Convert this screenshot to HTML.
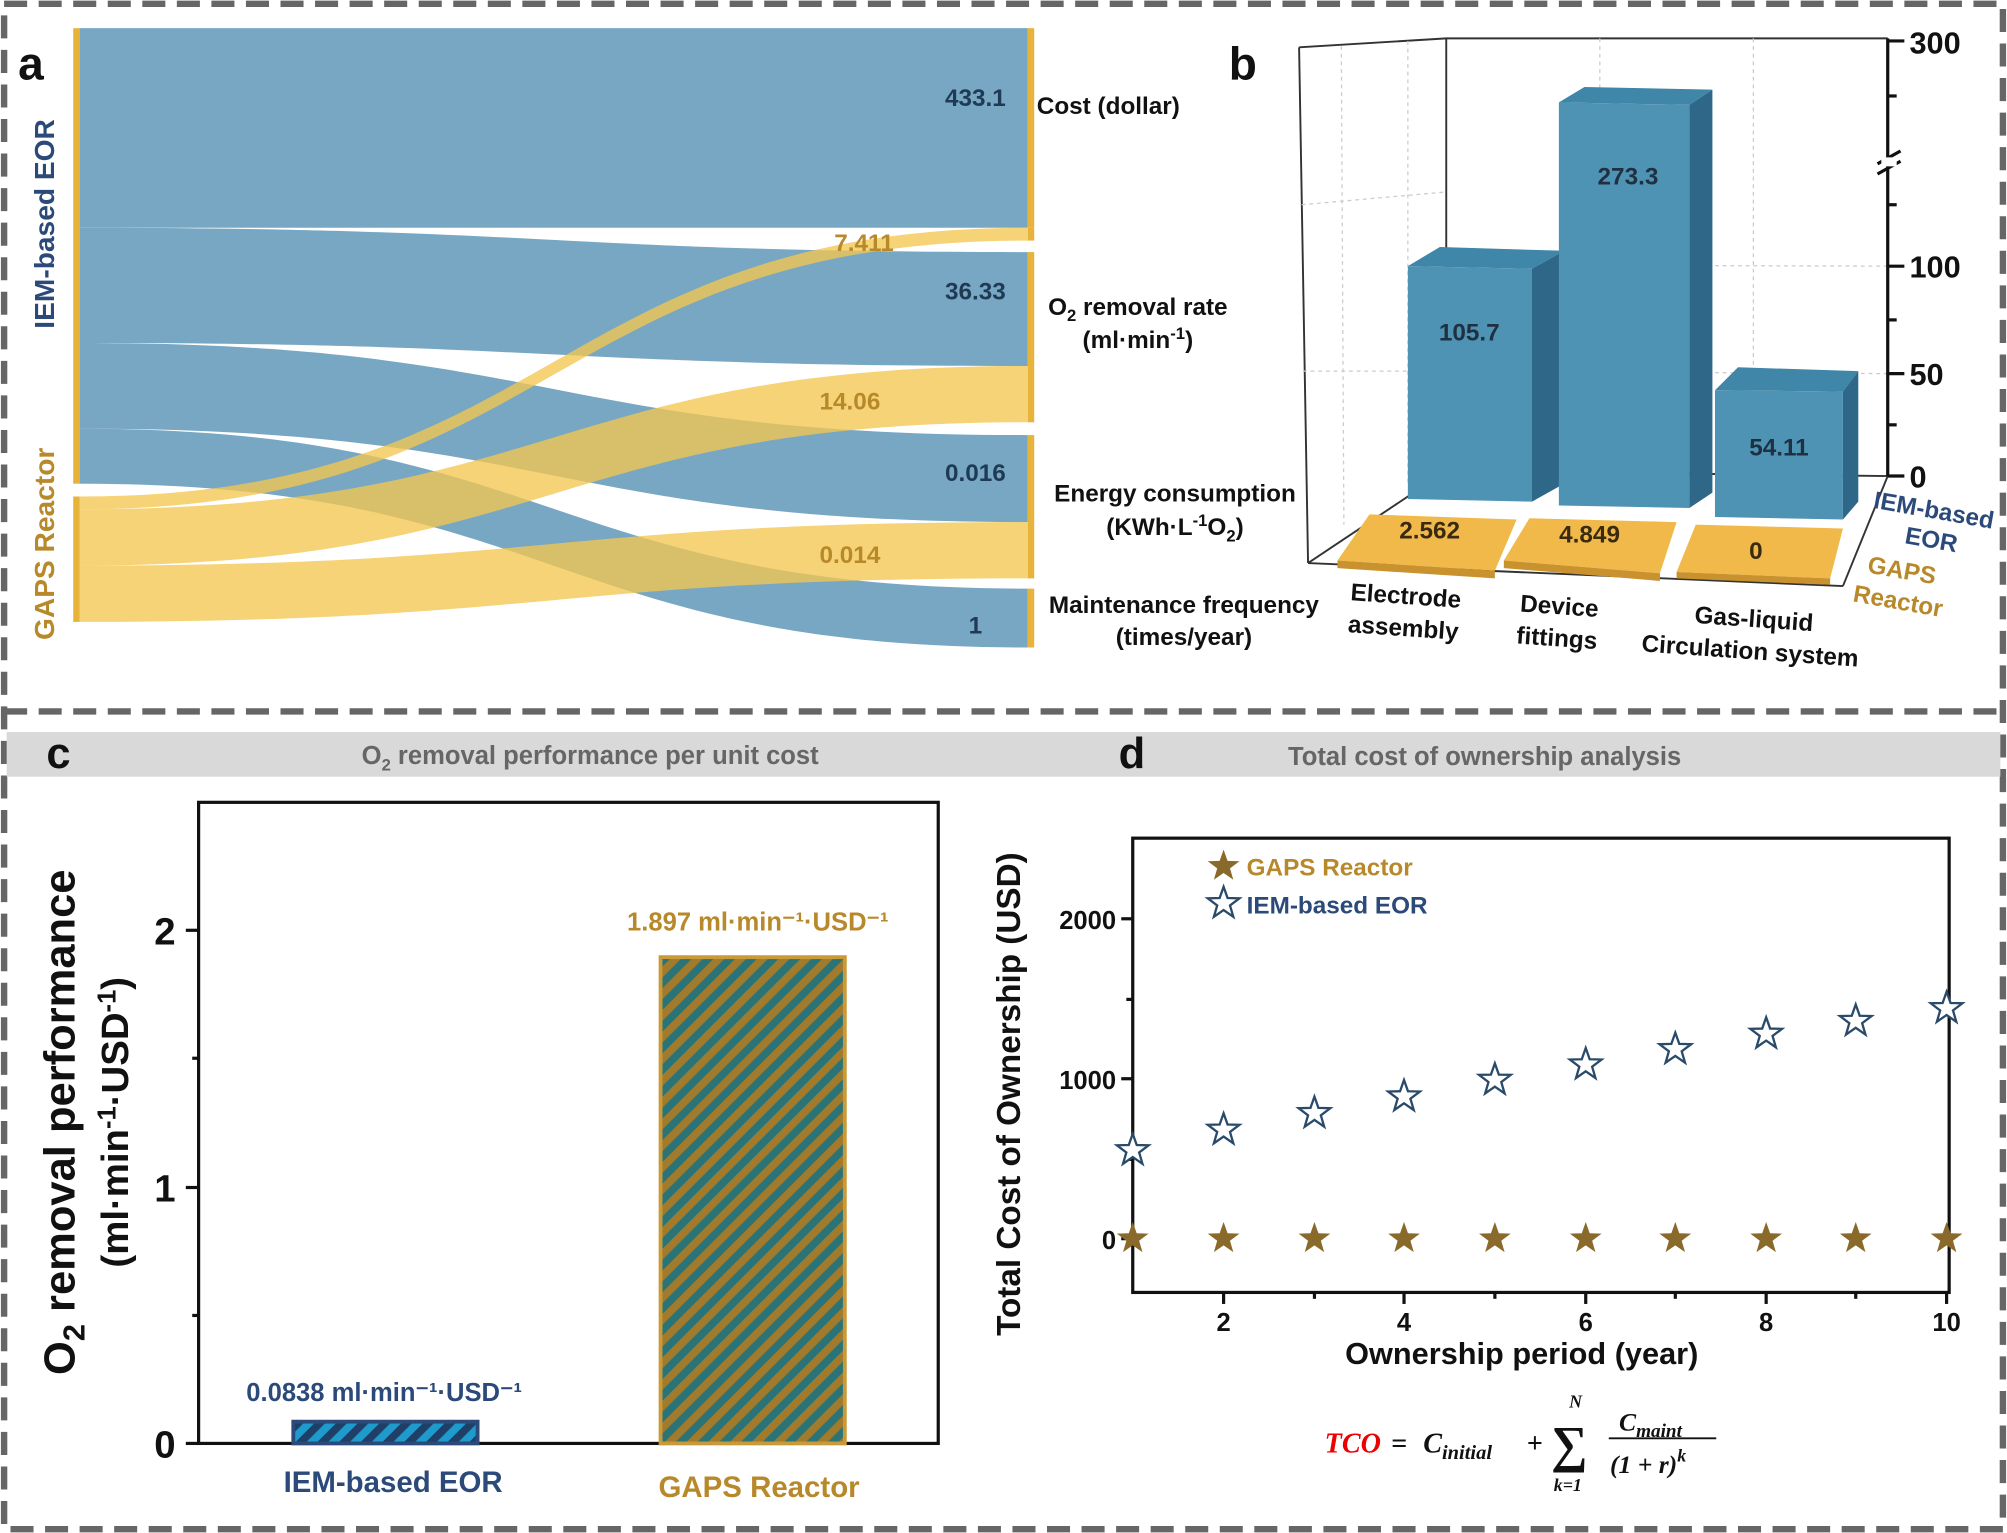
<!DOCTYPE html>
<html><head><meta charset="utf-8"><style>
html,body{margin:0;padding:0;background:#fff}
svg{display:block}
text{font-family:"Liberation Sans",Arial,sans-serif;font-weight:bold}
</style></head><body>
<svg width="2007" height="1533" viewBox="0 0 1568 1198" xmlns="http://www.w3.org/2000/svg">
<defs>
<pattern id="hb" width="12" height="12" patternUnits="userSpaceOnUse" patternTransform="rotate(45)">
<rect width="12" height="12" fill="#1e9bcc"/><rect width="6" height="12" fill="#1f3f66"/></pattern>
<pattern id="hg" width="12" height="12" patternUnits="userSpaceOnUse" patternTransform="rotate(45)">
<rect width="12" height="12" fill="#2a7478"/><rect width="6" height="12" fill="#a27a2c"/></pattern>
<polygon id="star" points="0,-13 3.1,-4.2 12.4,-4 5,1.6 7.6,10.5 0,5.2 -7.6,10.5 -5,1.6 -12.4,-4 -3.1,-4.2"/>
</defs>
<rect x="0" y="0" width="1568" height="1198" fill="#fff"/>
<rect x="3" y="3" width="1562" height="1192" fill="none" stroke="#666" stroke-width="5" stroke-dasharray="18,9"/>
<line x1="3" y1="556" x2="1565" y2="556" stroke="#666" stroke-width="5" stroke-dasharray="18,9"/>

<g fill="#78a7c3">
<path d="M62 22 C432 22,432 22,803 22 L803 178 C432 178,432 178,62 178Z"/>
<path d="M62 178 C432 178,432 197,803 197 L803 286 C432 286,432 268,62 268Z"/>
<path d="M62 268 C432 268,432 340,803 340 L803 408 C432 408,432 335,62 335Z"/>
<path d="M62 335 C432 335,432 460,803 460 L803 506 C432 506,432 378,62 378Z"/>
</g>
<g fill="#f2c750" fill-opacity="0.78">
<path d="M62 388 C432 388,432 178,803 178 L803 188 C432 188,432 398,62 398Z"/>
<path d="M62 398 C432 398,432 286,803 286 L803 330 C432 330,432 442,62 442Z"/>
<path d="M62 442 C432 442,432 408,803 408 L803 452 C432 452,432 486,62 486Z"/>
</g>
<rect x="57" y="22" width="5" height="356" fill="#e8b33a"/>
<rect x="57" y="388" width="5" height="98" fill="#e8b33a"/>
<g fill="#e8b33a"><rect x="803" y="22" width="5" height="156"/><rect x="803" y="197" width="5" height="89"/><rect x="803" y="340" width="5" height="68"/><rect x="803" y="460" width="5" height="46"/>
<rect x="803" y="178" width="5" height="10"/><rect x="803" y="286" width="5" height="44"/><rect x="803" y="408" width="5" height="44"/></g>
<text x="14" y="62" font-size="36" fill="#111">a</text>
<text transform="translate(42,175) rotate(-90)" text-anchor="middle" font-size="22" fill="#2b4a7a">IEM-based EOR</text>
<text transform="translate(42,425) rotate(-90)" text-anchor="middle" font-size="22" fill="#b8892a">GAPS Reactor</text>
<g font-size="19" text-anchor="middle">
<text x="762" y="83" fill="#1f3a55">433.1</text>
<text x="675" y="196" fill="#b8892a">7.411</text>
<text x="762" y="234" fill="#1f3a55">36.33</text>
<text x="664" y="320" fill="#b8892a">14.06</text>
<text x="762" y="376" fill="#1f3a55">0.016</text>
<text x="664" y="440" fill="#b8892a">0.014</text>
<text x="762" y="495" fill="#1f3a55">1</text>
</g>
<g font-size="19" fill="#111">
<text x="810" y="89">Cost (dollar)</text>
<text x="889" y="246" text-anchor="middle">O<tspan font-size="13" dy="5">2</tspan><tspan dy="-5"> removal rate</tspan></text>
<text x="889" y="272" text-anchor="middle">(ml·min<tspan font-size="13" dy="-7">-1</tspan><tspan dy="7">)</tspan></text>
<text x="918" y="392" text-anchor="middle">Energy consumption</text>
<text x="918" y="418" text-anchor="middle">(KWh·L<tspan font-size="13" dy="-7">-1</tspan><tspan dy="7">O</tspan><tspan font-size="13" dy="5">2</tspan><tspan dy="-5">)</tspan></text>
<text x="925" y="479" text-anchor="middle">Maintenance frequency</text>
<text x="925" y="504" text-anchor="middle">(times/year)</text>
</g>

<text x="960" y="62" font-size="36" fill="#111">b</text>
<g stroke="#333" stroke-width="1.5" fill="none">
<polyline points="1015,37 1130,30 1475,30"/>
<line x1="1015" y1="37" x2="1022" y2="440"/>
<line x1="1130" y1="30" x2="1130" y2="368"/>
<line x1="1022" y1="440" x2="1130" y2="368"/>
<line x1="1130" y1="368" x2="1475" y2="372"/>
<line x1="1022" y1="440" x2="1440" y2="458"/>
<line x1="1475" y1="372" x2="1440" y2="458"/>
</g>
<g stroke="#ccc" stroke-width="1" stroke-dasharray="3,3" fill="none">
<line x1="1130" y1="290" x2="1475" y2="292"/><line x1="1130" y1="207" x2="1475" y2="208"/>
<line x1="1017" y1="160" x2="1130" y2="150"/><line x1="1018" y1="290" x2="1130" y2="290"/>
<line x1="1048" y1="36" x2="1050" y2="410"/><line x1="1100" y1="32" x2="1100" y2="380"/>
<line x1="1250" y1="30" x2="1250" y2="370"/><line x1="1370" y1="30" x2="1370" y2="371"/>
</g>
<g stroke="#111" stroke-width="2.5">
<line x1="1475" y1="30" x2="1475" y2="372"/>
<line x1="1475" y1="32" x2="1488" y2="32"/><line x1="1475" y1="208" x2="1488" y2="208"/>
<line x1="1475" y1="292" x2="1488" y2="292"/><line x1="1475" y1="372" x2="1488" y2="372"/>
<line x1="1475" y1="75" x2="1482" y2="75"/><line x1="1475" y1="160" x2="1482" y2="160"/>
<line x1="1475" y1="250" x2="1482" y2="250"/><line x1="1475" y1="332" x2="1482" y2="332"/>
<line x1="1467" y1="128" x2="1485" y2="118"/><line x1="1467" y1="136" x2="1485" y2="126"/>
</g>
<rect x="1470" y="123" width="12" height="7" fill="#fff"/>
<g font-size="24" fill="#111"><text x="1492" y="42">300</text><text x="1492" y="217">100</text><text x="1492" y="301">50</text><text x="1492" y="381">0</text></g>
<g>
<polygon points="1045,438 1070,402 1185,406 1168,446" fill="#f0b94a"/>
<polygon points="1045,438 1168,446 1168,452 1045,444" fill="#c9922e"/>
<polygon points="1175,438 1195,405 1310,408 1297,448" fill="#f0b94a"/>
<polygon points="1175,438 1297,448 1297,454 1175,444" fill="#c9922e"/>
<polygon points="1310,447 1325,410 1440,413 1430,452" fill="#f0b94a"/>
<polygon points="1310,447 1430,452 1430,457 1310,452" fill="#c9922e"/>
</g>
<g font-size="19" fill="#3a2a10" text-anchor="middle"><text x="1117" y="421">2.562</text><text x="1242" y="424">4.849</text><text x="1372" y="437">0</text></g>
<g>
<polygon points="1100,208 1125,193 1222,196 1197,210" fill="#3f86a8"/>
<polygon points="1197,210 1222,196 1222,378 1197,392" fill="#2e6788"/>
<polygon points="1100,208 1197,210 1197,392 1100,390" fill="#4e93b4"/>
<polygon points="1218,80 1238,68 1338,70 1320,82" fill="#3f86a8"/>
<polygon points="1320,82 1338,70 1338,385 1320,397" fill="#2e6788"/>
<polygon points="1218,80 1320,82 1320,397 1218,395" fill="#4e93b4"/>
<polygon points="1340,305 1358,287 1452,290 1440,306" fill="#3f86a8"/>
<polygon points="1440,306 1452,290 1452,392 1440,406" fill="#2e6788"/>
<polygon points="1340,305 1440,306 1440,406 1340,404" fill="#4e93b4"/>
</g>
<g font-size="19" fill="#1f3040" text-anchor="middle"><text x="1148" y="266">105.7</text><text x="1272" y="144">273.3</text><text x="1390" y="356">54.11</text></g>
<g font-size="19" fill="#111" text-anchor="middle">
<text transform="translate(1098,472) rotate(4)">Electrode</text><text transform="translate(1096,497) rotate(4)">assembly</text>
<text transform="translate(1218,480) rotate(4)">Device</text><text transform="translate(1216,505) rotate(4)">fittings</text>
<text transform="translate(1370,490) rotate(4)">Gas-liquid</text><text transform="translate(1367,515) rotate(4)">Circulation system</text>
</g>
<g font-size="19" text-anchor="middle">
<text transform="translate(1510,405) rotate(10)" fill="#2b4a7a">IEM-based</text>
<text transform="translate(1508,428) rotate(10)" fill="#2b4a7a">EOR</text>
<text transform="translate(1485,452) rotate(10)" fill="#b8892a">GAPS</text>
<text transform="translate(1482,476) rotate(10)" fill="#b8892a">Reactor</text>
</g>

<rect x="5" y="572" width="1558" height="35" fill="#d9d9d9"/>
<text x="461" y="597" font-size="20" fill="#666" text-anchor="middle">O<tspan font-size="13" dy="5">2</tspan><tspan dy="-5"> removal performance per unit cost</tspan></text>
<text x="1160" y="598" font-size="20" fill="#666" text-anchor="middle">Total cost of ownership analysis</text>
<text x="36" y="600" font-size="34" fill="#111">c</text>
<text x="874" y="600" font-size="34" fill="#111">d</text>

<rect x="155" y="627" width="578" height="501" fill="none" stroke="#111" stroke-width="2.5"/>
<g stroke="#111" stroke-width="2.5">
<line x1="145" y1="1128" x2="155" y2="1128"/><line x1="145" y1="928" x2="155" y2="928"/><line x1="145" y1="727" x2="155" y2="727"/>
<line x1="150" y1="1028" x2="155" y2="1028"/><line x1="150" y1="827" x2="155" y2="827"/>
</g>
<g font-size="30" fill="#111" text-anchor="end"><text x="137" y="1139">0</text><text x="137" y="939">1</text><text x="137" y="738">2</text></g>
<text transform="translate(58,877) rotate(-90)" text-anchor="middle" font-size="34" fill="#111">O<tspan font-size="24" dy="8">2</tspan><tspan dy="-8"> removal performance</tspan></text>
<text transform="translate(100,877) rotate(-90)" text-anchor="middle" font-size="30" fill="#111">(ml·min<tspan font-size="20" dy="-10">-1</tspan><tspan dy="10">·USD</tspan><tspan font-size="20" dy="-10">-1</tspan><tspan dy="10">)</tspan></text>
<rect x="229" y="1111" width="144" height="17" fill="url(#hb)" stroke="#2b4a7a" stroke-width="3"/>
<rect x="516" y="748" width="144" height="380" fill="url(#hg)" stroke="#c89a3a" stroke-width="3"/>
<text x="300" y="1095" font-size="20" fill="#2b4a7a" text-anchor="middle">0.0838 ml·min⁻¹·USD⁻¹</text>
<text x="592" y="727" font-size="20" fill="#b8892a" text-anchor="middle">1.897 ml·min⁻¹·USD⁻¹</text>
<text x="307" y="1166" font-size="23" fill="#2b4a7a" text-anchor="middle">IEM-based EOR</text>
<text x="593" y="1170" font-size="23" fill="#b8892a" text-anchor="middle">GAPS Reactor</text>

<rect x="885" y="655" width="638" height="355" fill="none" stroke="#111" stroke-width="2.5"/>
<g stroke="#111" stroke-width="2.5">
<line x1="876" y1="968" x2="885" y2="968"/><line x1="876" y1="843" x2="885" y2="843"/><line x1="876" y1="718" x2="885" y2="718"/>
<line x1="880" y1="906" x2="885" y2="906"/><line x1="880" y1="781" x2="885" y2="781"/>
<line x1="956" y1="1010" x2="956" y2="1019"/><line x1="1097" y1="1010" x2="1097" y2="1019"/><line x1="1239" y1="1010" x2="1239" y2="1019"/><line x1="1380" y1="1010" x2="1380" y2="1019"/><line x1="1521" y1="1010" x2="1521" y2="1019"/>
<line x1="1027" y1="1010" x2="1027" y2="1015"/><line x1="1168" y1="1010" x2="1168" y2="1015"/><line x1="1309" y1="1010" x2="1309" y2="1015"/><line x1="1450" y1="1010" x2="1450" y2="1015"/>
</g>
<g font-size="20" fill="#111" text-anchor="end"><text x="872" y="976">0</text><text x="872" y="851">1000</text><text x="872" y="726">2000</text></g>
<g font-size="20" fill="#111" text-anchor="middle"><text x="956" y="1040">2</text><text x="1097" y="1040">4</text><text x="1239" y="1040">6</text><text x="1380" y="1040">8</text><text x="1521" y="1040">10</text></g>
<text x="1189" y="1066" font-size="24" fill="#111" text-anchor="middle">Ownership period (year)</text>
<text transform="translate(797,855) rotate(-90)" font-size="26" fill="#111" text-anchor="middle">Total Cost of Ownership (USD)</text>
<g fill="#8a6a2a">
<use href="#star" x="885" y="968"/><use href="#star" x="956" y="968"/><use href="#star" x="1027" y="968"/><use href="#star" x="1097" y="968"/><use href="#star" x="1168" y="968"/><use href="#star" x="1239" y="968"/><use href="#star" x="1309" y="968"/><use href="#star" x="1380" y="968"/><use href="#star" x="1450" y="968"/><use href="#star" x="1521" y="968"/>
<use href="#star" x="956" y="677"/>
</g>
<g fill="#fff" stroke="#2a4a6a" stroke-width="1.8">
<use href="#star" x="885" y="899"/><use href="#star" x="956" y="883"/><use href="#star" x="1027" y="870"/><use href="#star" x="1097" y="857"/><use href="#star" x="1168" y="844"/><use href="#star" x="1239" y="832"/><use href="#star" x="1309" y="820"/><use href="#star" x="1380" y="808"/><use href="#star" x="1450" y="798"/><use href="#star" x="1521" y="788"/>
<use href="#star" x="956" y="706"/>
</g>
<text x="974" y="684" font-size="19" fill="#b8892a">GAPS Reactor</text>
<text x="974" y="714" font-size="19" fill="#2b4a7a">IEM-based EOR</text>
<g font-style="italic" font-weight="bold">
<text x="1035" y="1135" font-size="22" fill="#e00" style="font-family:'Liberation Serif',serif">TCO</text>
<text x="1087" y="1135" font-size="22" fill="#111" style="font-family:'Liberation Serif',serif;font-style:normal">=</text>
<text x="1112" y="1135" font-size="22" fill="#111" style="font-family:'Liberation Serif',serif">C<tspan font-size="16" dy="5">initial</tspan></text>
<text x="1193" y="1135" font-size="22" fill="#111" style="font-family:'Liberation Serif',serif;font-style:normal">+</text>
<text x="1212" y="1142" font-size="40" fill="#111" style="font-family:'Liberation Serif',serif;font-style:normal">∑</text>
<text x="1226" y="1100" font-size="14" fill="#111" style="font-family:'Liberation Serif',serif">N</text>
<text x="1214" y="1165" font-size="14" fill="#111" style="font-family:'Liberation Serif',serif">k=1</text>
<text x="1265" y="1118" font-size="20" fill="#111" style="font-family:'Liberation Serif',serif">C<tspan font-size="15" dy="5">maint</tspan></text>
<line x1="1257" y1="1124" x2="1341" y2="1124" stroke="#111" stroke-width="1.5"/>
<text x="1258" y="1151" font-size="20" fill="#111" style="font-family:'Liberation Serif',serif">(1 + r)<tspan font-size="14" dy="-9">k</tspan></text>
</g>
</svg>
</body></html>
